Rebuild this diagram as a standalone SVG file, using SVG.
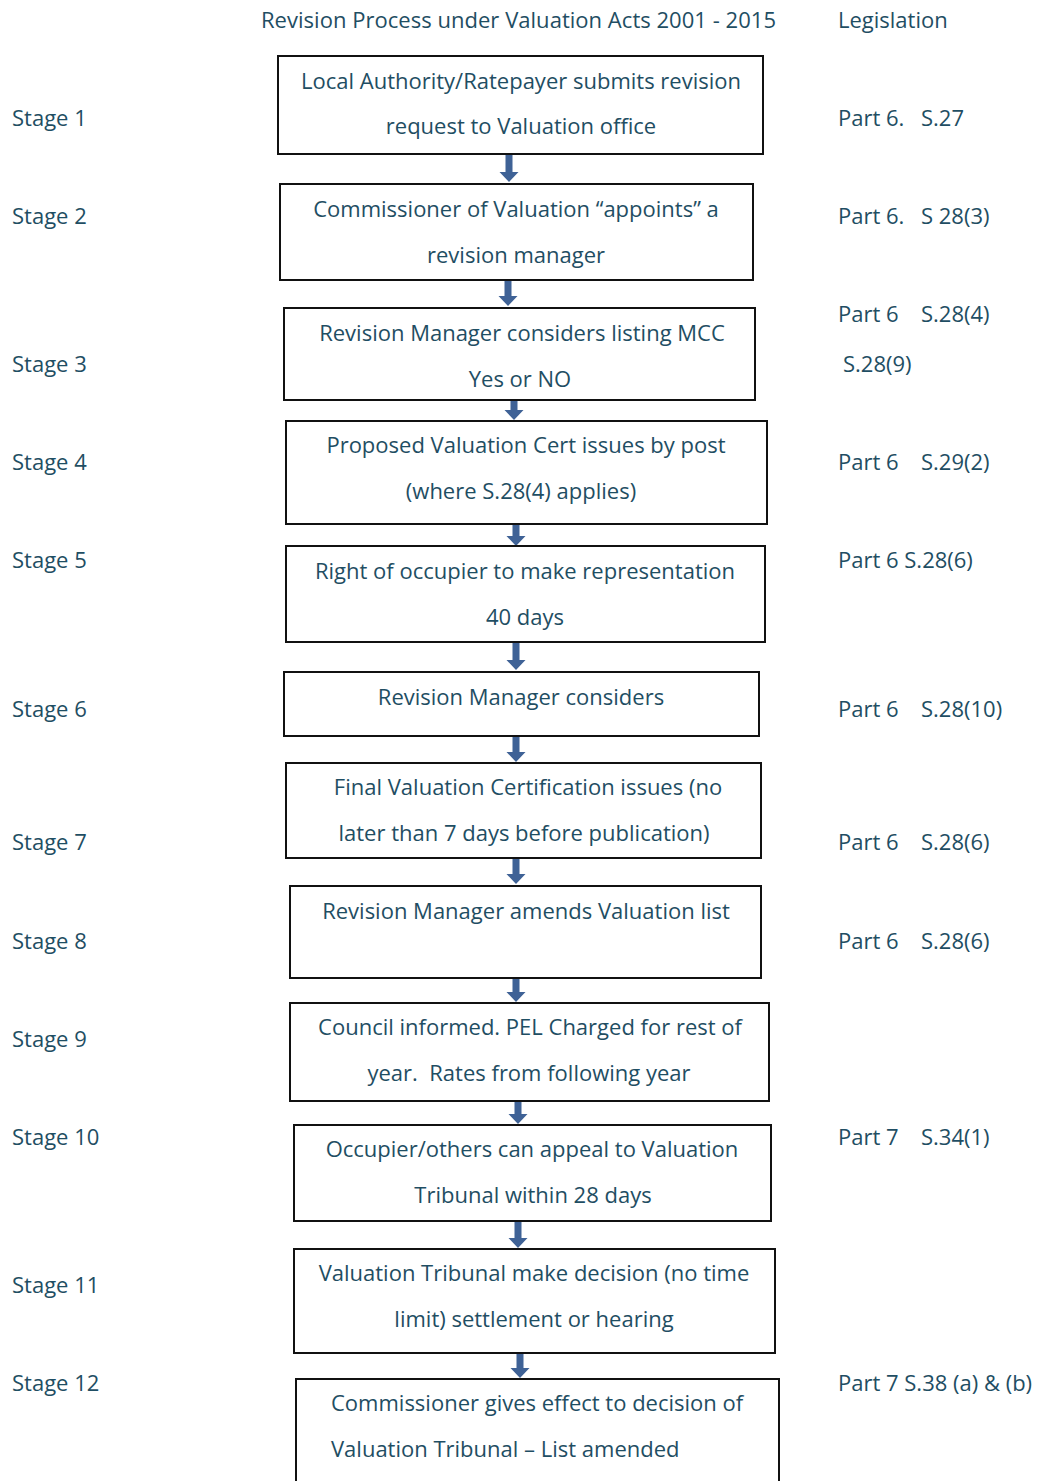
<svg xmlns="http://www.w3.org/2000/svg" width="1042" height="1481" viewBox="0 0 1042 1481">
<style>
text{font-family:"Open Sans",Lato,"Liberation Sans",sans-serif;font-size:22px;fill:#1f4e63}
.c{text-anchor:middle}
.box{fill:#fff;stroke:#111;stroke-width:2}
.arr{fill:#3f6296}
</style>
<rect width="1042" height="1481" fill="#fff"/>
<g id="header">
<text x="261" y="28" textLength="515">Revision Process under Valuation Acts 2001 - 2015</text>
<text x="838" y="28">Legislation</text>
</g>
<g id="stages">
<text x="12" y="126">Stage 1</text>
<text x="12" y="224">Stage 2</text>
<text x="12" y="372">Stage 3</text>
<text x="12" y="470">Stage 4</text>
<text x="12" y="568">Stage 5</text>
<text x="12" y="717">Stage 6</text>
<text x="12" y="850">Stage 7</text>
<text x="12" y="949">Stage 8</text>
<text x="12" y="1047">Stage 9</text>
<text x="12" y="1145">Stage 10</text>
<text x="12" y="1293">Stage 11</text>
<text x="12" y="1391">Stage 12</text>
</g>
<g id="legislation">
<text x="838" y="126">Part 6.<tspan x="921">S.27</tspan></text>
<text x="838" y="224">Part 6.<tspan x="921">S 28(3)</tspan></text>
<text x="838" y="322">Part 6<tspan x="921">S.28(4)</tspan></text>
<text x="843" y="372">S.28(9)</text>
<text x="838" y="470">Part 6<tspan x="921">S.29(2)</tspan></text>
<text x="838" y="568">Part 6 S.28(6)</text>
<text x="838" y="717">Part 6<tspan x="921">S.28(10)</tspan></text>
<text x="838" y="850">Part 6<tspan x="921">S.28(6)</tspan></text>
<text x="838" y="949">Part 6<tspan x="921">S.28(6)</tspan></text>
<text x="838" y="1145">Part 7<tspan x="921">S.34(1)</tspan></text>
<text x="838" y="1391">Part 7 S.38 (a) &amp; (b)</text>
</g>
<g id="connectors">
<path class="arr" d="M505.5 154H512.5V172H518.5L509 182L499.5 172H505.5Z"/>
<path class="arr" d="M504.5 280H511.5V296H517.5L508 306L498.5 296H504.5Z"/>
<path class="arr" d="M510.5 400H517.5V410H523.5L514 420L504.5 410H510.5Z"/>
<path class="arr" d="M512.5 524H519.5V536H525.5L516 546L506.5 536H512.5Z"/>
<path class="arr" d="M512.5 642H519.5V660H525.5L516 670L506.5 660H512.5Z"/>
<path class="arr" d="M512.5 736H519.5V752H525.5L516 762L506.5 752H512.5Z"/>
<path class="arr" d="M512.5 858H519.5V874H525.5L516 884L506.5 874H512.5Z"/>
<path class="arr" d="M512.5 978H519.5V992H525.5L516 1002L506.5 992H512.5Z"/>
<path class="arr" d="M514.5 1101H521.5V1114H527.5L518 1124L508.5 1114H514.5Z"/>
<path class="arr" d="M514.5 1221H521.5V1238H527.5L518 1248L508.5 1238H514.5Z"/>
<path class="arr" d="M516.5 1353H523.5V1368H529.5L520 1378L510.5 1368H516.5Z"/>
</g>
<g id="node1"><rect class="box" x="278" y="56" width="485" height="98"/>
<text class="c" x="521" y="89">Local Authority/Ratepayer submits revision</text>
<text class="c" x="521" y="134">request to Valuation office</text></g>
<g id="node2"><rect class="box" x="280" y="184" width="473" height="96"/>
<text class="c" x="516" y="217">Commissioner of Valuation “appoints” a</text>
<text class="c" x="516" y="263">revision manager</text></g>
<g id="node3"><rect class="box" x="284" y="308" width="471" height="92"/>
<text class="c" x="522" y="341">Revision Manager considers listing MCC</text>
<text class="c" x="520" y="387">Yes or NO</text></g>
<g id="node4"><rect class="box" x="286" y="421" width="481" height="103"/>
<text class="c" x="526" y="453">Proposed Valuation Cert issues by post</text>
<text class="c" x="521" y="499">(where S.28(4) applies)</text></g>
<g id="node5"><rect class="box" x="286" y="546" width="479" height="96"/>
<text class="c" x="525" y="579">Right of occupier to make representation</text>
<text class="c" x="525" y="625">40 days</text></g>
<g id="node6"><rect class="box" x="284" y="672" width="475" height="64"/>
<text class="c" x="521" y="705">Revision Manager considers</text></g>
<g id="node7"><rect class="box" x="286" y="763" width="475" height="95"/>
<text class="c" x="528" y="795">Final Valuation Certification issues (no</text>
<text class="c" x="524" y="841">later than 7 days before publication)</text></g>
<g id="node8"><rect class="box" x="290" y="886" width="471" height="92"/>
<text class="c" x="526" y="919">Revision Manager amends Valuation list</text></g>
<g id="node9"><rect class="box" x="290" y="1003" width="479" height="98"/>
<text class="c" x="530" y="1035">Council informed. PEL Charged for rest of</text>
<text class="c" x="529" y="1081">year.&#160; Rates from following year</text></g>
<g id="node10"><rect class="box" x="294" y="1125" width="477" height="96"/>
<text class="c" x="532" y="1157">Occupier/others can appeal to Valuation</text>
<text class="c" x="533" y="1203">Tribunal within 28 days</text></g>
<g id="node11"><rect class="box" x="294" y="1249" width="481" height="104"/>
<text class="c" x="534" y="1281">Valuation Tribunal make decision (no time</text>
<text class="c" x="534" y="1327">limit) settlement or hearing</text></g>
<g id="node12"><rect class="box" x="296" y="1379" width="483" height="110"/>
<text x="331" y="1411">Commissioner gives effect to decision of</text>
<text x="331" y="1457">Valuation Tribunal – List amended</text></g>
</svg>
